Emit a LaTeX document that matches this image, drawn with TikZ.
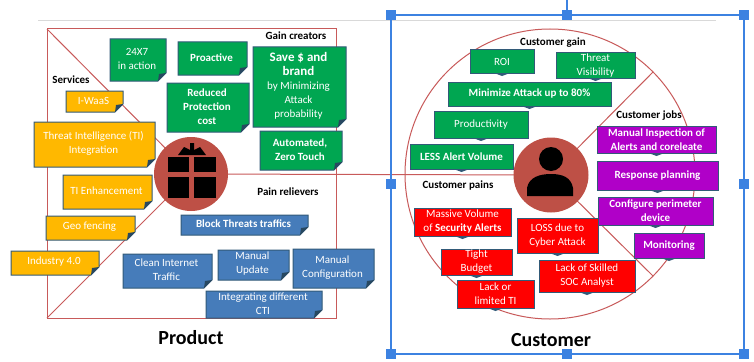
\documentclass[tikz,border=0pt]{standalone}
\usepackage{fontspec}
\setmainfont{Carlito}
\usetikzlibrary{calc}
\definecolor{grn}{RGB}{0,166,81}
\definecolor{ylw}{RGB}{255,184,0}
\definecolor{blu}{RGB}{70,124,186}
\definecolor{purp}{RGB}{176,0,200}
\definecolor{edge}{RGB}{50,90,120}
\definecolor{redline}{RGB}{200,90,90}
\definecolor{hub}{RGB}{190,80,70}
\definecolor{sel}{RGB}{60,130,225}
\newcommand{\largecardfont}{\bfseries\fontsize{13}{15}\selectfont}
\tikzset{
  x=1pt,y=-1pt,
  cardedge/.style={draw=edge,line width=1pt},
  cardtext/.style={text=white,align=center,font=\fontsize{11}{14}\selectfont,inner sep=0pt},
  lbl/.style={font=\bfseries\fontsize{11}{13}\selectfont,inner sep=0pt},
  big/.style={font=\bfseries\fontsize{20}{24}\selectfont,inner sep=0pt},
  thin red/.style={draw=redline,line width=1pt},
  handle/.style={fill=sel,draw=none,minimum size=10pt,inner sep=0pt,outer sep=0pt},
}
% snipped card: name, x1,y1,x2,y2, colour, text
\newcommand{\snipcard}[7]{%
  \filldraw[cardedge,fill=#6] (#2,#3) -- (#4,#3) -- (#4,#5-8) -- (#4-8,#5) -- (#2,#5) -- cycle;
  \fill[edge!80!black] (#4,#5-8) -- (#4-8,#5) -- (#4-7,#5-7) -- cycle;
  \node[cardtext] (#1) at ({(#2+#4)/2-1},{(#3+#5)/2-1}) {#7};}
% tab card: name, x1,y1,x2,y2, colour, text
\newcommand{\tabcard}[7]{%
  \filldraw[cardedge,fill=#6] (#2,#3) rectangle (#4,#5);
  \fill[edge] ({(#2+#4)/2-8},#5) -- ({(#2+#4)/2+8},#5) -- ({(#2+#4)/2},#5+3) -- cycle;
  \node[cardtext] (#1) at ({(#2+#4)/2},{(#3+#5)/2}) {#7};}
\begin{document}
\begin{tikzpicture}
\useasboundingbox (0,0) rectangle (754,361);
\fill[white] (0,0) rectangle (754,361);
% top rule
\coordinate (ruleL) at (38,21); \coordinate (ruleR) at (716,21);
\draw[black!15,line width=1pt] (ruleL) -- (ruleR);
% product frame
\coordinate (fa) at (47,29); \coordinate (fb) at (336,29);
\coordinate (fc) at (336,318); \coordinate (fd) at (47,318);
\draw[thin red] (fa) -- (fb) -- (fc) -- (fd) -- cycle;
% hubs
\coordinate (gift) at (191,174);
\coordinate (pers) at (551,175);
\draw[thin red] (fa) -- (gift);
\draw[thin red] (fd) -- (gift);
\draw[thin red] (gift) -- (pers);
% customer circle
\node[circle,draw=redline,line width=1pt,minimum size=290pt,inner sep=0pt] (ring) at (550,174) {};
\coordinate (ru) at (653,72); \coordinate (rd) at (653,276);
\draw[thin red] (pers) -- (ru);
\draw[thin red] (pers) -- (rd);
\node[circle,fill=hub,minimum size=74pt,inner sep=0pt] (gifthub) at (gift) {};
\node[circle,fill=hub,minimum size=75pt,inner sep=0pt] (pershub) at (pers) {};
% gift icon
\fill[black] (168,157) rectangle (189,172);
\fill[black] (194,157) rectangle (216,172);
\fill[black] (168,177) rectangle (189,198);
\fill[black] (194,177) rectangle (216,198);
\fill[black] (178,155) -- (184,147) -- (190,150) -- (190,143) -- (194,143) -- (194,150) -- (200,147) -- (206,155) -- cycle;
% person icon
\fill[black] (551,159) circle[radius=12];
\fill[black] (527,196) -- (527,188) .. controls (529,177) and (540,174) .. (551,174) .. controls (562,174) and (571,177) .. (573,188) -- (573,196) -- cycle;
% product cards
\snipcard{c247}{110}{39}{166}{81}{grn}{24X7\\in action}
\snipcard{cpro}{178}{42}{247}{75}{grn}{\bfseries Proactive}
\snipcard{cred}{167}{83}{249}{132}{grn}{\bfseries Reduced\\\bfseries Protection\\\bfseries cost}
\snipcard{csav}{253}{47}{346}{127}{grn}{{\largecardfont Save \$ and}\\{\largecardfont brand}\\by Minimizing\\Attack\\probability}
\snipcard{caut}{260}{131}{342}{170}{grn}{\bfseries Automated,\\\bfseries Zero Touch}
\snipcard{cwaa}{66}{91}{123}{112}{ylw}{I-WaaS}
\snipcard{ctin}{34}{122}{155}{167}{ylw}{Threat Intelligence (TI)\\Integration}
\snipcard{cenh}{63}{175}{152}{209}{ylw}{TI Enhancement}
\snipcard{cgeo}{46}{216}{135}{240}{ylw}{Geo fencing}
\snipcard{cind}{11}{251}{99}{275}{ylw}{Industry 4.0}
\snipcard{cblk}{181}{215}{308}{235}{blu}{\bfseries Block Threats traffics}
\snipcard{ccln}{123}{254}{212}{288}{blu}{Clean Internet\\Traffic}
\snipcard{cupd}{218}{250}{289}{280}{blu}{Manual\\Update}
\snipcard{ccfg}{293}{249}{374}{288}{blu}{Manual\\Configuration}
\snipcard{cint}{206}{291}{322}{318}{blu}{Integrating different\\CTI}
% customer cards
\tabcard{croi}{470}{50}{534}{73}{grn}{ROI}
\tabcard{cvis}{556}{53}{635}{78}{grn}{Threat\\Visibility}
\tabcard{cmin}{448}{82}{611}{106}{grn}{\bfseries Minimize Attack up to 80\%}
\tabcard{cprd}{434}{111}{528}{138}{grn}{Productivity}
\tabcard{cles}{410}{144}{513}{169}{grn}{\bfseries LESS Alert Volume}
\tabcard{cman}{597}{126}{716}{153}{purp}{\bfseries Manual Inspection of\\\bfseries Alerts and coreleate}
\tabcard{cres}{597}{161}{718}{190}{purp}{\bfseries Response planning}
\tabcard{ccon}{598}{197}{713}{225}{purp}{\bfseries Configure perimeter\\\bfseries device}
\tabcard{cmon}{634}{233}{704}{258}{purp}{\bfseries Monitoring}
\tabcard{cmas}{414}{208}{511}{236}{red}{Massive Volume\\of {\bfseries Security Alerts}}
\tabcard{clos}{517}{218}{598}{253}{red}{LOSS due to\\Cyber Attack}
\tabcard{ctig}{441}{249}{512}{275}{red}{Tight\\Budget}
\tabcard{cskl}{539}{260}{635}{292}{red}{Lack of Skilled\\SOC Analyst}
\tabcard{clim}{457}{280}{534}{308}{red}{Lack or\\limited TI}
% labels
\node[lbl] (lgain) at (296,36) {Gain creators};
\node[lbl] (lserv) at (71,80) {Services};
\node[lbl] (lpain) at (288,192) {Pain relievers};
\node[lbl] (lcg) at (553,43) {Customer gain};
\node[lbl] (lcj) at (649,116) {Customer jobs};
\node[lbl] (lcp) at (458,186) {Customer pains};
\node[big] (lprod) at (191,338) {Product};
\node[big] (lcust) at (551,340) {Customer};
% selection frame
\coordinate (s1) at (391,15); \coordinate (s2) at (567,15); \coordinate (s3) at (744,15);
\coordinate (s4) at (391,184); \coordinate (s5) at (744,184);
\coordinate (s6) at (391,354); \coordinate (s7) at (567,354); \coordinate (s8) at (744,354);
\coordinate (s0) at (567,0);
\draw[sel,line width=1.3pt] (s1) -- (s3) -- (s8) -- (s6) -- cycle;
\draw[sel,line width=1.3pt] (s0) -- (s2);
\foreach \h in {s1,s2,s3,s4,s5,s6,s7,s8} \node[handle] (h\h) at (\h) {};
\end{tikzpicture}
\end{document}
